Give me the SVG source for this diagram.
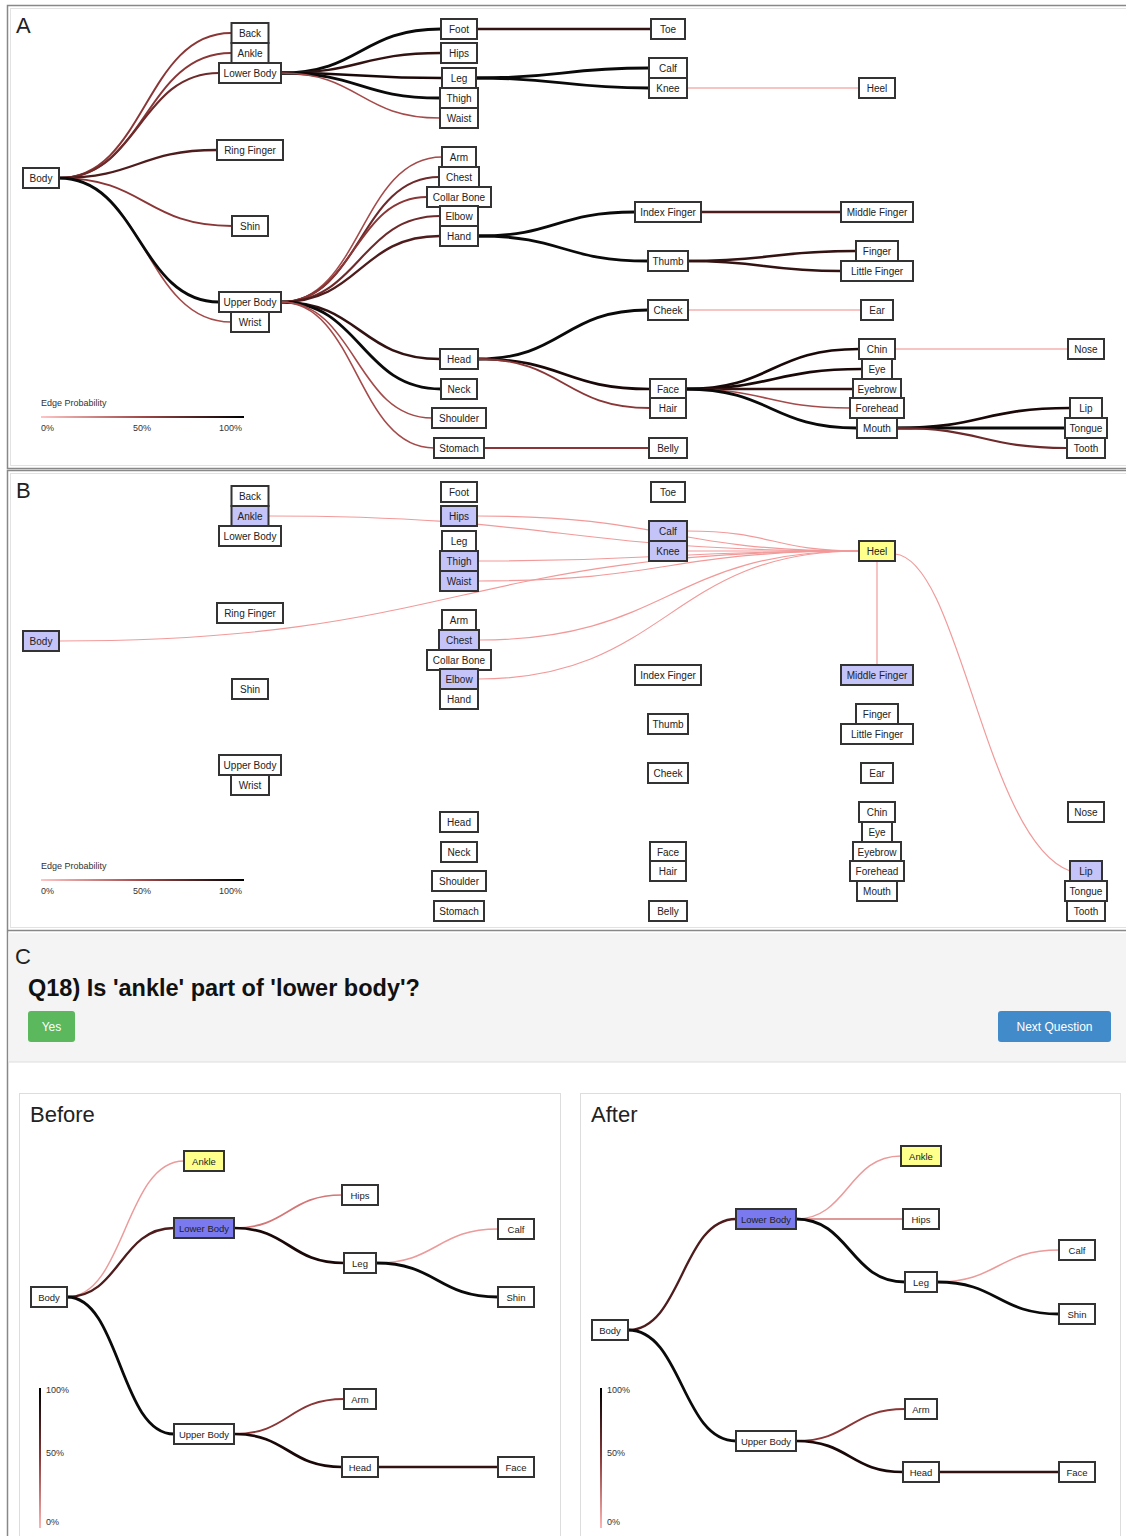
<svg xmlns="http://www.w3.org/2000/svg" width="1126" height="1536" viewBox="0 0 1126 1536">
<defs>
<linearGradient id="gh" x1="0" y1="0" x2="1" y2="0"><stop offset="0" stop-color="#ffc4c4"/><stop offset="0.5" stop-color="#a04848"/><stop offset="1" stop-color="#000"/></linearGradient>
<linearGradient id="gv" x1="0" y1="0" x2="0" y2="1"><stop offset="0" stop-color="#000"/><stop offset="0.5" stop-color="#8a3a3a"/><stop offset="1" stop-color="#ffb4b4"/></linearGradient>
</defs>
<style>
text{font-family:"Liberation Sans",Arial,sans-serif}
.n rect{fill:#fff;stroke:#333;stroke-width:2}
.n text{font-size:10px;text-anchor:middle;fill:#222}
.c .n text{font-size:9.5px}
.hl rect{fill:#c4c4f8}
.ye rect{fill:#ffff8c}
.bl rect{fill:#7a7aee}
#connectors path{fill:none}
.p0{stroke:#f08a8a;stroke-width:1.1}
.pb{stroke:#f29a9a;stroke-width:1.2}
.pk{stroke:#ec9a9a;stroke-width:1.5}
.pr{stroke:#d47676;stroke-width:1.7}
.p3{stroke:#a54a4a;stroke-width:1.6}
.p5{stroke:#8a3636;stroke-width:1.9}
.p6{stroke:#6e2a2a;stroke-width:2.1}
.p7{stroke:#4e1c1c;stroke-width:2.3}
.p8{stroke:#331212;stroke-width:2.5}
.p9{stroke:#1a0808;stroke-width:2.7}
.p10{stroke:#0a0a0a;stroke-width:2.8}
.lg{font-size:9px;fill:#333}
.pl{font-size:22px;fill:#222}
</style>
<rect width="1126" height="1536" fill="#fff"/>
<!-- panel frames -->
<rect x="7.5" y="5.5" width="1122" height="463" fill="#fff" stroke="#888" stroke-width="1.5"/>
<rect x="10.5" y="8.5" width="1118" height="457" fill="none" stroke="#e2e2e2"/>
<rect x="7.5" y="470.5" width="1122" height="460" fill="#fff" stroke="#888" stroke-width="1.5"/>
<rect x="10.5" y="473.5" width="1118" height="454" fill="none" stroke="#e2e2e2"/>
<line x1="7.5" y1="931" x2="7.5" y2="1536" stroke="#888" stroke-width="1.5"/>
<rect x="8.5" y="933" width="1120" height="129" fill="#f4f4f4"/>
<line x1="8.5" y1="1062" x2="1126" y2="1062" stroke="#dedede"/>
<text x="16" y="33" class="pl">A</text>
<text x="16" y="498" class="pl">B</text>
<text x="15" y="964" class="pl">C</text>
<text x="28" y="996" style="font-size:23.5px;font-weight:bold;fill:#111">Q18) Is 'ankle' part of 'lower body'?</text>
<g id="btn-yes"><rect x="28" y="1011" width="47" height="31" rx="3" fill="#5cb85c"/><text x="51.5" y="1031" style="font-size:12px;fill:#fff;text-anchor:middle">Yes</text></g>
<g id="btn-next"><rect x="998" y="1011" width="113" height="31" rx="3" fill="#428bca"/><text x="1054.5" y="1031" style="font-size:12px;fill:#fff;text-anchor:middle">Next Question</text></g>
<rect x="19.5" y="1093.5" width="541" height="445" fill="#fff" stroke="#ddd"/>
<rect x="580.5" y="1093.5" width="540" height="445" fill="#fff" stroke="#ddd"/>
<text x="30" y="1122" class="pl">Before</text>
<text x="591" y="1122" class="pl">After</text>
<!-- legends -->
<g id="legend-a"><text x="41" y="406" class="lg">Edge Probability</text><rect x="41" y="416" width="203" height="2" fill="url(#gh)"/><text x="41" y="431" class="lg">0%</text><text x="133" y="431" class="lg">50%</text><text x="219" y="431" class="lg">100%</text></g>
<g id="legend-b"><text x="41" y="869" class="lg">Edge Probability</text><rect x="41" y="879" width="203" height="2" fill="url(#gh)"/><text x="41" y="894" class="lg">0%</text><text x="133" y="894" class="lg">50%</text><text x="219" y="894" class="lg">100%</text></g>
<g id="legend-before"><rect x="39" y="1388" width="2" height="140" fill="url(#gv)"/><text x="46" y="1393" class="lg">100%</text><text x="46" y="1456" class="lg">50%</text><text x="46" y="1525" class="lg">0%</text></g>
<g id="legend-after"><rect x="600" y="1388" width="2" height="140" fill="url(#gv)"/><text x="607" y="1393" class="lg">100%</text><text x="607" y="1456" class="lg">50%</text><text x="607" y="1525" class="lg">0%</text></g>
<g id="connectors">
<g id="edges-a">
<path class="p5" d="M59 178 C145 178 145 33 231 33"/>
<path class="p5" d="M59 178 C145 178 145 53 231 53"/>
<path class="p6" d="M59 178 C139 178 139 73 219 73"/>
<path class="p7" d="M59 178 C138 178 138 150 217 150"/>
<path class="p5" d="M59 178 C145 178 145 226 232 226"/>
<path class="p3" d="M59 178 C145 178 145 322 231 322"/>
<path class="p10" d="M59 178 C139 178 139 302 219 302"/>
<path class="p10" d="M281 73 C361 73 361 29 441 29"/>
<path class="p8" d="M281 73 C361 73 361 53 441 53"/>
<path class="p9" d="M281 73 C361 73 361 78 442 78"/>
<path class="p10" d="M281 73 C360 73 360 98 440 98"/>
<path class="p3" d="M281 73 C360 73 360 118 440 118"/>
<path class="p8" d="M477 29 L651 29"/>
<path class="p10" d="M476 78 C562 78 562 68 649 68"/>
<path class="p10" d="M476 78 C562 78 562 88 649 88"/>
<path class="p0" d="M687 88 L859 88"/>
<path class="p3" d="M281 302 C361 302 361 157 442 157"/>
<path class="p6" d="M281 302 C360 302 360 177 439 177"/>
<path class="p5" d="M281 302 C354 302 354 197 427 197"/>
<path class="p6" d="M281 302 C360 302 360 216 440 216"/>
<path class="p7" d="M281 302 C360 302 360 236 440 236"/>
<path class="p8" d="M281 302 C360 302 360 359 440 359"/>
<path class="p10" d="M281 302 C361 302 361 389 441 389"/>
<path class="p3" d="M281 302 C356 302 356 418 432 418"/>
<path class="p3" d="M281 302 C357 302 357 448 434 448"/>
<path class="p10" d="M478 236 C556 236 556 212 635 212"/>
<path class="p10" d="M478 236 C563 236 563 261 648 261"/>
<path class="p7" d="M701 212 L841 212"/>
<path class="p8" d="M688 261 C772 261 772 251 856 251"/>
<path class="p8" d="M688 261 C764 261 764 271 841 271"/>
<path class="p10" d="M478 359 C563 359 563 310 648 310"/>
<path class="p9" d="M478 359 C564 359 564 389 650 389"/>
<path class="p5" d="M478 359 C564 359 564 408 650 408"/>
<path class="p0" d="M688 310 L861 310"/>
<path class="p5" d="M484 448 L649 448"/>
<path class="p9" d="M686 389 C772 389 772 349 859 349"/>
<path class="p9" d="M686 389 C774 389 774 369 862 369"/>
<path class="p8" d="M686 389 L853 389"/>
<path class="p3" d="M686 389 C768 389 768 408 850 408"/>
<path class="p10" d="M686 389 C771 389 771 428 857 428"/>
<path class="p0" d="M895 349 L1068 349"/>
<path class="p9" d="M897 428 C983 428 983 408 1070 408"/>
<path class="p10" d="M897 428 L1065 428"/>
<path class="p6" d="M897 428 C982 428 982 448 1067 448"/>
</g>
<g id="edges-b">
<path class="pb" d="M268 516 C563 516 563 551 859 551"/>
<path class="pb" d="M477 516 C668 516 668 551 859 551"/>
<path class="pb" d="M478 561 C668 561 668 551 859 551"/>
<path class="pb" d="M478 581 C668 581 668 551 859 551"/>
<path class="pb" d="M59 641 C459 641 459 551 859 551"/>
<path class="pb" d="M479 640 C669 640 669 551 859 551"/>
<path class="pb" d="M478 679 C668 679 668 551 859 551"/>
<path class="pb" d="M687 531 C773 531 773 551 859 551"/>
<path class="pb" d="M687 551 L859 551"/>
<path class="pb" d="M877 561 L877 664"/>
<path class="pb" d="M895 554 C960 560 985 840 1070 871"/>
</g>
<g id="edges-before">
<path class="pk" d="M67 1297 C125 1297 125 1161 184 1161"/>
<path class="p7" d="M67 1297 C120 1297 120 1228 174 1228"/>
<path class="p10" d="M67 1297 C120 1297 120 1434 174 1434"/>
<path class="pr" d="M234 1228 C288 1228 288 1195 342 1195"/>
<path class="p9" d="M234 1228 C289 1228 289 1263 344 1263"/>
<path class="pk" d="M376 1263 C437 1263 437 1229 498 1229"/>
<path class="p10" d="M376 1263 C437 1263 437 1297 498 1297"/>
<path class="p5" d="M234 1434 C289 1434 289 1399 344 1399"/>
<path class="p9" d="M234 1434 C288 1434 288 1467 342 1467"/>
<path class="p8" d="M378 1467 L498 1467"/>
</g>
<g id="edges-after">
<path class="p7" d="M628 1330 C682 1330 682 1219 736 1219"/>
<path class="p10" d="M628 1330 C682 1330 682 1441 736 1441"/>
<path class="pk" d="M796 1219 C848 1219 848 1156 901 1156"/>
<path class="pr" d="M796 1219 L903 1219"/>
<path class="p10" d="M796 1219 C850 1219 850 1282 905 1282"/>
<path class="pk" d="M937 1282 C998 1282 998 1250 1059 1250"/>
<path class="p10" d="M937 1282 C998 1282 998 1314 1059 1314"/>
<path class="p5" d="M796 1441 C850 1441 850 1409 905 1409"/>
<path class="p9" d="M796 1441 C850 1441 850 1472 903 1472"/>
<path class="p8" d="M939 1472 L1059 1472"/>
</g>
</g>
<g id="nodes-a">
<g id="a-body" class="n"><rect x="23" y="168" width="36" height="20"/><text x="41" y="181.5">Body</text></g>
<g id="a-back" class="n"><rect x="231.5" y="23" width="37" height="20"/><text x="250" y="36.5">Back</text></g>
<g id="a-ankle" class="n"><rect x="231.5" y="43" width="37" height="20"/><text x="250" y="56.5">Ankle</text></g>
<g id="a-lowerbody" class="n"><rect x="219" y="63" width="62" height="20"/><text x="250" y="76.5">Lower Body</text></g>
<g id="a-ringfinger" class="n"><rect x="217" y="140" width="66" height="20"/><text x="250" y="153.5">Ring Finger</text></g>
<g id="a-shin" class="n"><rect x="232" y="216" width="36" height="20"/><text x="250" y="229.5">Shin</text></g>
<g id="a-upperbody" class="n"><rect x="219" y="292" width="62" height="20"/><text x="250" y="305.5">Upper Body</text></g>
<g id="a-wrist" class="n"><rect x="231" y="312" width="38" height="20"/><text x="250" y="325.5">Wrist</text></g>
<g id="a-foot" class="n"><rect x="441" y="19" width="36" height="20"/><text x="459" y="32.5">Foot</text></g>
<g id="a-hips" class="n"><rect x="441" y="43" width="36" height="20"/><text x="459" y="56.5">Hips</text></g>
<g id="a-leg" class="n"><rect x="442" y="68" width="34" height="20"/><text x="459" y="81.5">Leg</text></g>
<g id="a-thigh" class="n"><rect x="440" y="88" width="38" height="20"/><text x="459" y="101.5">Thigh</text></g>
<g id="a-waist" class="n"><rect x="440" y="108" width="38" height="20"/><text x="459" y="121.5">Waist</text></g>
<g id="a-arm" class="n"><rect x="442" y="147" width="34" height="20"/><text x="459" y="160.5">Arm</text></g>
<g id="a-chest" class="n"><rect x="439" y="167" width="40" height="20"/><text x="459" y="180.5">Chest</text></g>
<g id="a-collarbone" class="n"><rect x="427" y="187" width="64" height="20"/><text x="459" y="200.5">Collar Bone</text></g>
<g id="a-elbow" class="n"><rect x="440" y="206" width="38" height="20"/><text x="459" y="219.5">Elbow</text></g>
<g id="a-hand" class="n"><rect x="440" y="226" width="38" height="20"/><text x="459" y="239.5">Hand</text></g>
<g id="a-head" class="n"><rect x="440" y="349" width="38" height="20"/><text x="459" y="362.5">Head</text></g>
<g id="a-neck" class="n"><rect x="441" y="379" width="36" height="20"/><text x="459" y="392.5">Neck</text></g>
<g id="a-shoulder" class="n"><rect x="432" y="408" width="54" height="20"/><text x="459" y="421.5">Shoulder</text></g>
<g id="a-stomach" class="n"><rect x="434" y="438" width="50" height="20"/><text x="459" y="451.5">Stomach</text></g>
<g id="a-toe" class="n"><rect x="651" y="19" width="34" height="20"/><text x="668" y="32.5">Toe</text></g>
<g id="a-calf" class="n"><rect x="649" y="58" width="38" height="20"/><text x="668" y="71.5">Calf</text></g>
<g id="a-knee" class="n"><rect x="649" y="78" width="38" height="20"/><text x="668" y="91.5">Knee</text></g>
<g id="a-indexfinger" class="n"><rect x="635" y="202" width="66" height="20"/><text x="668" y="215.5">Index Finger</text></g>
<g id="a-thumb" class="n"><rect x="648" y="251" width="40" height="20"/><text x="668" y="264.5">Thumb</text></g>
<g id="a-cheek" class="n"><rect x="648" y="300" width="40" height="20"/><text x="668" y="313.5">Cheek</text></g>
<g id="a-face" class="n"><rect x="650" y="379" width="36" height="20"/><text x="668" y="392.5">Face</text></g>
<g id="a-hair" class="n"><rect x="650" y="398" width="36" height="20"/><text x="668" y="411.5">Hair</text></g>
<g id="a-belly" class="n"><rect x="649" y="438" width="38" height="20"/><text x="668" y="451.5">Belly</text></g>
<g id="a-heel" class="n"><rect x="859" y="78" width="36" height="20"/><text x="877" y="91.5">Heel</text></g>
<g id="a-middlefinger" class="n"><rect x="841" y="202" width="72" height="20"/><text x="877" y="215.5">Middle Finger</text></g>
<g id="a-finger" class="n"><rect x="856" y="241" width="42" height="20"/><text x="877" y="254.5">Finger</text></g>
<g id="a-littlefinger" class="n"><rect x="841" y="261" width="72" height="20"/><text x="877" y="274.5">Little Finger</text></g>
<g id="a-ear" class="n"><rect x="861" y="300" width="32" height="20"/><text x="877" y="313.5">Ear</text></g>
<g id="a-chin" class="n"><rect x="859" y="339" width="36" height="20"/><text x="877" y="352.5">Chin</text></g>
<g id="a-eye" class="n"><rect x="862" y="359" width="30" height="20"/><text x="877" y="372.5">Eye</text></g>
<g id="a-eyebrow" class="n"><rect x="853" y="379" width="48" height="20"/><text x="877" y="392.5">Eyebrow</text></g>
<g id="a-forehead" class="n"><rect x="850" y="398" width="54" height="20"/><text x="877" y="411.5">Forehead</text></g>
<g id="a-mouth" class="n"><rect x="857" y="418" width="40" height="20"/><text x="877" y="431.5">Mouth</text></g>
<g id="a-nose" class="n"><rect x="1068" y="339" width="36" height="20"/><text x="1086" y="352.5">Nose</text></g>
<g id="a-lip" class="n"><rect x="1070" y="398" width="32" height="20"/><text x="1086" y="411.5">Lip</text></g>
<g id="a-tongue" class="n"><rect x="1065" y="418" width="42" height="20"/><text x="1086" y="431.5">Tongue</text></g>
<g id="a-tooth" class="n"><rect x="1067" y="438" width="38" height="20"/><text x="1086" y="451.5">Tooth</text></g>
</g>
<g id="nodes-b" transform="translate(0,463)">
<g id="b-body" class="n hl"><rect x="23" y="168" width="36" height="20"/><text x="41" y="181.5">Body</text></g>
<g id="b-back" class="n"><rect x="231.5" y="23" width="37" height="20"/><text x="250" y="36.5">Back</text></g>
<g id="b-ankle" class="n hl"><rect x="231.5" y="43" width="37" height="20"/><text x="250" y="56.5">Ankle</text></g>
<g id="b-lowerbody" class="n"><rect x="219" y="63" width="62" height="20"/><text x="250" y="76.5">Lower Body</text></g>
<g id="b-ringfinger" class="n"><rect x="217" y="140" width="66" height="20"/><text x="250" y="153.5">Ring Finger</text></g>
<g id="b-shin" class="n"><rect x="232" y="216" width="36" height="20"/><text x="250" y="229.5">Shin</text></g>
<g id="b-upperbody" class="n"><rect x="219" y="292" width="62" height="20"/><text x="250" y="305.5">Upper Body</text></g>
<g id="b-wrist" class="n"><rect x="231" y="312" width="38" height="20"/><text x="250" y="325.5">Wrist</text></g>
<g id="b-foot" class="n"><rect x="441" y="19" width="36" height="20"/><text x="459" y="32.5">Foot</text></g>
<g id="b-hips" class="n hl"><rect x="441" y="43" width="36" height="20"/><text x="459" y="56.5">Hips</text></g>
<g id="b-leg" class="n"><rect x="442" y="68" width="34" height="20"/><text x="459" y="81.5">Leg</text></g>
<g id="b-thigh" class="n hl"><rect x="440" y="88" width="38" height="20"/><text x="459" y="101.5">Thigh</text></g>
<g id="b-waist" class="n hl"><rect x="440" y="108" width="38" height="20"/><text x="459" y="121.5">Waist</text></g>
<g id="b-arm" class="n"><rect x="442" y="147" width="34" height="20"/><text x="459" y="160.5">Arm</text></g>
<g id="b-chest" class="n hl"><rect x="439" y="167" width="40" height="20"/><text x="459" y="180.5">Chest</text></g>
<g id="b-collarbone" class="n"><rect x="427" y="187" width="64" height="20"/><text x="459" y="200.5">Collar Bone</text></g>
<g id="b-elbow" class="n hl"><rect x="440" y="206" width="38" height="20"/><text x="459" y="219.5">Elbow</text></g>
<g id="b-hand" class="n"><rect x="440" y="226" width="38" height="20"/><text x="459" y="239.5">Hand</text></g>
<g id="b-head" class="n"><rect x="440" y="349" width="38" height="20"/><text x="459" y="362.5">Head</text></g>
<g id="b-neck" class="n"><rect x="441" y="379" width="36" height="20"/><text x="459" y="392.5">Neck</text></g>
<g id="b-shoulder" class="n"><rect x="432" y="408" width="54" height="20"/><text x="459" y="421.5">Shoulder</text></g>
<g id="b-stomach" class="n"><rect x="434" y="438" width="50" height="20"/><text x="459" y="451.5">Stomach</text></g>
<g id="b-toe" class="n"><rect x="651" y="19" width="34" height="20"/><text x="668" y="32.5">Toe</text></g>
<g id="b-calf" class="n hl"><rect x="649" y="58" width="38" height="20"/><text x="668" y="71.5">Calf</text></g>
<g id="b-knee" class="n hl"><rect x="649" y="78" width="38" height="20"/><text x="668" y="91.5">Knee</text></g>
<g id="b-indexfinger" class="n"><rect x="635" y="202" width="66" height="20"/><text x="668" y="215.5">Index Finger</text></g>
<g id="b-thumb" class="n"><rect x="648" y="251" width="40" height="20"/><text x="668" y="264.5">Thumb</text></g>
<g id="b-cheek" class="n"><rect x="648" y="300" width="40" height="20"/><text x="668" y="313.5">Cheek</text></g>
<g id="b-face" class="n"><rect x="650" y="379" width="36" height="20"/><text x="668" y="392.5">Face</text></g>
<g id="b-hair" class="n"><rect x="650" y="398" width="36" height="20"/><text x="668" y="411.5">Hair</text></g>
<g id="b-belly" class="n"><rect x="649" y="438" width="38" height="20"/><text x="668" y="451.5">Belly</text></g>
<g id="b-heel" class="n ye"><rect x="859" y="78" width="36" height="20"/><text x="877" y="91.5">Heel</text></g>
<g id="b-middlefinger" class="n hl"><rect x="841" y="202" width="72" height="20"/><text x="877" y="215.5">Middle Finger</text></g>
<g id="b-finger" class="n"><rect x="856" y="241" width="42" height="20"/><text x="877" y="254.5">Finger</text></g>
<g id="b-littlefinger" class="n"><rect x="841" y="261" width="72" height="20"/><text x="877" y="274.5">Little Finger</text></g>
<g id="b-ear" class="n"><rect x="861" y="300" width="32" height="20"/><text x="877" y="313.5">Ear</text></g>
<g id="b-chin" class="n"><rect x="859" y="339" width="36" height="20"/><text x="877" y="352.5">Chin</text></g>
<g id="b-eye" class="n"><rect x="862" y="359" width="30" height="20"/><text x="877" y="372.5">Eye</text></g>
<g id="b-eyebrow" class="n"><rect x="853" y="379" width="48" height="20"/><text x="877" y="392.5">Eyebrow</text></g>
<g id="b-forehead" class="n"><rect x="850" y="398" width="54" height="20"/><text x="877" y="411.5">Forehead</text></g>
<g id="b-mouth" class="n"><rect x="857" y="418" width="40" height="20"/><text x="877" y="431.5">Mouth</text></g>
<g id="b-nose" class="n"><rect x="1068" y="339" width="36" height="20"/><text x="1086" y="352.5">Nose</text></g>
<g id="b-lip" class="n hl"><rect x="1070" y="398" width="32" height="20"/><text x="1086" y="411.5">Lip</text></g>
<g id="b-tongue" class="n"><rect x="1065" y="418" width="42" height="20"/><text x="1086" y="431.5">Tongue</text></g>
<g id="b-tooth" class="n"><rect x="1067" y="438" width="38" height="20"/><text x="1086" y="451.5">Tooth</text></g>
</g>
<g id="nodes-before" class="c">
<g id="cb-ankle" class="n ye"><rect x="184" y="1151" width="40" height="20"/><text x="204" y="1164.5">Ankle</text></g>
<g id="cb-lowerbody" class="n bl"><rect x="174" y="1218" width="60" height="20"/><text x="204" y="1231.5">Lower Body</text></g>
<g id="cb-hips" class="n"><rect x="342" y="1185" width="36" height="20"/><text x="360" y="1198.5">Hips</text></g>
<g id="cb-leg" class="n"><rect x="344" y="1253" width="32" height="20"/><text x="360" y="1266.5">Leg</text></g>
<g id="cb-calf" class="n"><rect x="498" y="1219" width="36" height="20"/><text x="516" y="1232.5">Calf</text></g>
<g id="cb-shin" class="n"><rect x="498" y="1287" width="36" height="20"/><text x="516" y="1300.5">Shin</text></g>
<g id="cb-body" class="n"><rect x="31" y="1287" width="36" height="20"/><text x="49" y="1300.5">Body</text></g>
<g id="cb-arm" class="n"><rect x="344" y="1389" width="32" height="20"/><text x="360" y="1402.5">Arm</text></g>
<g id="cb-upperbody" class="n"><rect x="174" y="1424" width="60" height="20"/><text x="204" y="1437.5">Upper Body</text></g>
<g id="cb-head" class="n"><rect x="342" y="1457" width="36" height="20"/><text x="360" y="1470.5">Head</text></g>
<g id="cb-face" class="n"><rect x="498" y="1457" width="36" height="20"/><text x="516" y="1470.5">Face</text></g>
</g>
<g id="nodes-after" class="c">
<g id="ca-ankle" class="n ye"><rect x="901" y="1146" width="40" height="20"/><text x="921" y="1159.5">Ankle</text></g>
<g id="ca-lowerbody" class="n bl"><rect x="736" y="1209" width="60" height="20"/><text x="766" y="1222.5">Lower Body</text></g>
<g id="ca-hips" class="n"><rect x="903" y="1209" width="36" height="20"/><text x="921" y="1222.5">Hips</text></g>
<g id="ca-leg" class="n"><rect x="905" y="1272" width="32" height="20"/><text x="921" y="1285.5">Leg</text></g>
<g id="ca-calf" class="n"><rect x="1059" y="1240" width="36" height="20"/><text x="1077" y="1253.5">Calf</text></g>
<g id="ca-shin" class="n"><rect x="1059" y="1304" width="36" height="20"/><text x="1077" y="1317.5">Shin</text></g>
<g id="ca-body" class="n"><rect x="592" y="1320" width="36" height="20"/><text x="610" y="1333.5">Body</text></g>
<g id="ca-arm" class="n"><rect x="905" y="1399" width="32" height="20"/><text x="921" y="1412.5">Arm</text></g>
<g id="ca-upperbody" class="n"><rect x="736" y="1431" width="60" height="20"/><text x="766" y="1444.5">Upper Body</text></g>
<g id="ca-head" class="n"><rect x="903" y="1462" width="36" height="20"/><text x="921" y="1475.5">Head</text></g>
<g id="ca-face" class="n"><rect x="1059" y="1462" width="36" height="20"/><text x="1077" y="1475.5">Face</text></g>
</g>
</svg>
